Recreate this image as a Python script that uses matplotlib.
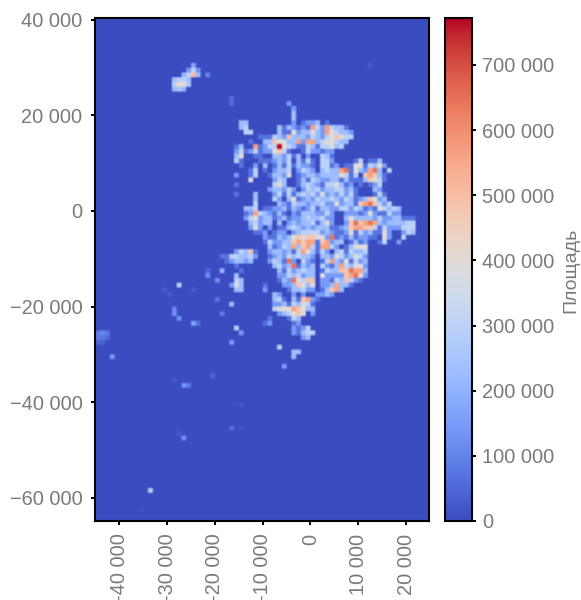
import numpy as np
import matplotlib
matplotlib.use("Agg")
import matplotlib.pyplot as plt

GREY = "#7a7a7a"
plt.rcParams["font.family"] = ["Liberation Sans", "DejaVu Sans"]

# Area levels (one digit per cell) and the main body of the map
LEVELS = [0, 70000, 150000, 230000, 300000, 390000, 480000, 560000, 640000, 770000]
BODY_X0 = -20000   # first column
BODY_Y0 = 22000    # first row, rows go downward
CELL = 1000
BODY = [
    "0000000000" "0000020000",
    "0000000000" "0000002000",
    "0000000000" "0000003000",
    "0000000000" "0000003000",
    "0000033000" "0000002012" "2301000000",
    "0000034000" "0003132121" "7427433100",
    "0000004400" "0003115233" "5327543320",
    "0000000001" "1143263332" "4324565440",
    "0000000100" "3365533727" "7345543300",
    "0000130071" "2449543114" "3144534000",
    "0000241241" "2256410014" "2212200000",
    "0000350011" "0033241302" "0043100000",
    "0000410001" "1123240314" "1044200001" "4011300000",
    "0000010020" "3013141322" "1044120115" "5143520000",
    "0000000140" "1023340243" "2034337815" "3278304000",
    "0000200140" "0133250123" "3233335414" "0676310000",
    "0000000500" "0024300131" "4322331311" "1365410000",
    "0000100000" "0045300134" "3214453120" "1012400000",
    "0000000000" "0233242024" "3423344231" "0003200000",
    "0000100030" "0024141343" "4252324241" "0001410000",
    "0000000030" "0042035123" "2433432431" "2365230000",
    "0000000040" "0003214332" "3342252331" "6786424000",
    "0000003340" "1122313212" "4133224424" "3121543430",
    "0000001274" "3213102133" "3224200222" "1252114220",
    "0000002452" "3312312234" "3342200353" "3332422331" "11",
    "0000000342" "3303023233" "4135200268" "6787323333" "44",
    "0000000252" "0201134323" "2333112367" "7664142224" "44",
    "0000000011" "2012202344" "4423211251" "4231152002" "43",
    "0000000000" "2113235656" "6552812131" "2211052004",
    "0000000000" "1422336767" "7167233013" "1200140020",
    "0000000000" "0312437367" "4177420135" "5500000000",
    "0000243610" "0233231475" "3142034143" "3400000000",
    "0114433420" "0123243433" "2033254235" "4200000000",
    "0012332300" "0243182042" "1014732514" "2300000000",
    "0000100000" "0034238132" "3042137435" "5200000000",
    "0000010000" "0003142343" "3014336687" "7300000000",
    "0000300000" "0002243423" "3052222678" "5200000000",
    "0000430000" "0001328546" "6022143642" "1000000000",
    "0002530000" "1000223653" "5022373310",
    "0000330000" "2000013342" "2013673000",
    "0000000000" "0032002020" "0223200000",
    "0000000000" "0034103167" "2100000000",
    "0003000000" "0022314354" "1000000000",
    "0000000000" "0045557653" "3000000000",
    "0000000000" "0002345650" "2000000000",
    "0000000000" "0100014300",
    "0000000000" "1200001200",
    "0000400000" "0000002124",
    "0000020000" "0000002134" "4",
    "0000000000" "0000000023",
    "0002000000",
    "0000000000" "0004000000",
    "0000000000" "0000003300",
    "0000000000" "0000003000",
    "0000000000",
    "0000000000" "0000200000",
]

# Isolated settlements away from the main body
ISO_X = [-29000, -28000, -27000, -26000, -29000, -28000, -27000, -26000, -29000, -28000, -27000,
         -27000, -26000, -25000, -24000, -26000, -25000, -24000, -25000, -22000, -17000, -17000, 12000,
         -28000, -30000, -31000, -25000, -22000, -22000, -20000, -19000, -30000,
         -20000, -19000, -29000, -29000, -28000, -25000, -24000,
         -45000, -44000, -43000, -45000, -44000, -43000, -45000, -44000, -42000,
         -27000, -26000, -29000, -21000, -27000, -28000, -17000, -34000, -15000, -15000, -36000]
ISO_Y = [27000, 27000, 27000, 27000, 26000, 26000, 26000, 26000, 25000, 25000, 25000,
         28000, 28000, 28000, 28000, 29000, 29000, 29000, 30000, 28000, 23000, 22000, 30000,
         -16000, -18000, -17000, -17000, -14000, -13000, -15000, -13000, -18000,
         -19000, -22000, -21000, -22000, -23000, -24000, -24000,
         -26000, -26000, -26000, -27000, -27000, -27000, -28000, -28000, -31000,
         -37000, -37000, -36000, -35000, -48000, -47000, -46000, -59000, -41000, -46000, -63000]
ISO_V = [240000, 290000, 300000, 230000, 300000, 430000, 400000, 260000, 220000, 260000, 200000,
         220000, 300000, 500000, 220000, 150000, 300000, 130000, 170000, 100000, 60000, 60000, 30000,
         300000, 90000, 30000, 30000, 120000, 50000, 120000, 200000, 30000,
         70000, 90000, 110000, 130000, 130000, 160000, 70000,
         90000, 110000, 80000, 90000, 80000, 60000, 50000, 40000, 150000,
         130000, 90000, 30000, 50000, 130000, 30000, 60000, 280000, 20000, 20000, 10000]

X_TICKS = [-40000, -30000, -20000, -10000, 0, 10000, 20000]
X_LABELS = ["-40 000", "-30 000", "-20 000", "-10 000", "0", "10 000", "20 000"]
Y_TICKS = [40000, 20000, 0, -20000, -40000, -60000]
Y_LABELS = ["40 000", "20 000", "0", "\u221220 000", "\u221240 000", "\u221260 000"]
CB_TICKS = [0, 100000, 200000, 300000, 400000, 500000, 600000, 700000]
CB_LABELS = ["0", "100 000", "200 000", "300 000", "400 000", "500 000", "600 000", "700 000"]
VMAX = 772000
CB_TITLE = "Площадь"

# grid
x_edges = np.arange(-46000, 26000, CELL)
y_edges = np.arange(-66000, 42000, CELL)
grid = np.zeros((len(y_edges) - 1, len(x_edges) - 1))
for r, row in enumerate(BODY):
    y = BODY_Y0 - r * CELL
    j = int((y - y_edges[0]) // CELL)
    for c, ch in enumerate(row):
        i = int((BODY_X0 + c * CELL - x_edges[0]) // CELL)
        if ch != "0" and 0 <= i < grid.shape[1]:
            grid[j, i] = LEVELS[int(ch)]
for x, y, v in zip(ISO_X, ISO_Y, ISO_V):
    grid[int((y - y_edges[0]) // CELL), int((x - x_edges[0]) // CELL)] = v

# keep the cells square but with soft edges
fine = np.repeat(np.repeat(grid, 2, axis=0), 2, axis=1)

W, H = 581, 600
fig = plt.figure(figsize=(W / 100, H / 100), dpi=100)
ax = fig.add_axes([95 / W, 1 - 521 / H, (429 - 95) / W, (521 - 18) / H])
im = ax.imshow(fine, origin="lower", cmap="coolwarm", vmin=0, vmax=VMAX,
               extent=[x_edges[0], x_edges[-1], y_edges[0], y_edges[-1]],
               interpolation="bilinear", aspect="auto")
ax.set_xlim(-45100, 24800)
ax.set_ylim(-64900, 40400)
ax.set_xticks(X_TICKS, X_LABELS, rotation=90)
ax.set_yticks(Y_TICKS, Y_LABELS)
ax.tick_params(axis="x", length=3, width=1.4, pad=6, labelsize=14.4, labelcolor=GREY, color="black")
ax.tick_params(axis="y", length=3, width=1.4, pad=6, labelsize=14.4, labelcolor=GREY, color="black")
for s in ax.spines.values():
    s.set_linewidth(1.5)
    s.set_color("black")

cax = fig.add_axes([445 / W, 1 - 521 / H, (472 - 445) / W, (521 - 18) / H])
cb = fig.colorbar(im, cax=cax)
cb.set_ticks(CB_TICKS, labels=CB_LABELS)
cb.ax.tick_params(length=3, width=1.4, pad=4.5, labelsize=14.4, labelcolor=GREY, color="black")
cb.outline.set_linewidth(1.5)
cb.outline.set_edgecolor("black")
fig.text(571 / W, 1 - 270 / H, CB_TITLE, rotation=90, ha="center", va="center",
         fontsize=14, color=GREY)
fig.savefig("out.png", dpi=100)
